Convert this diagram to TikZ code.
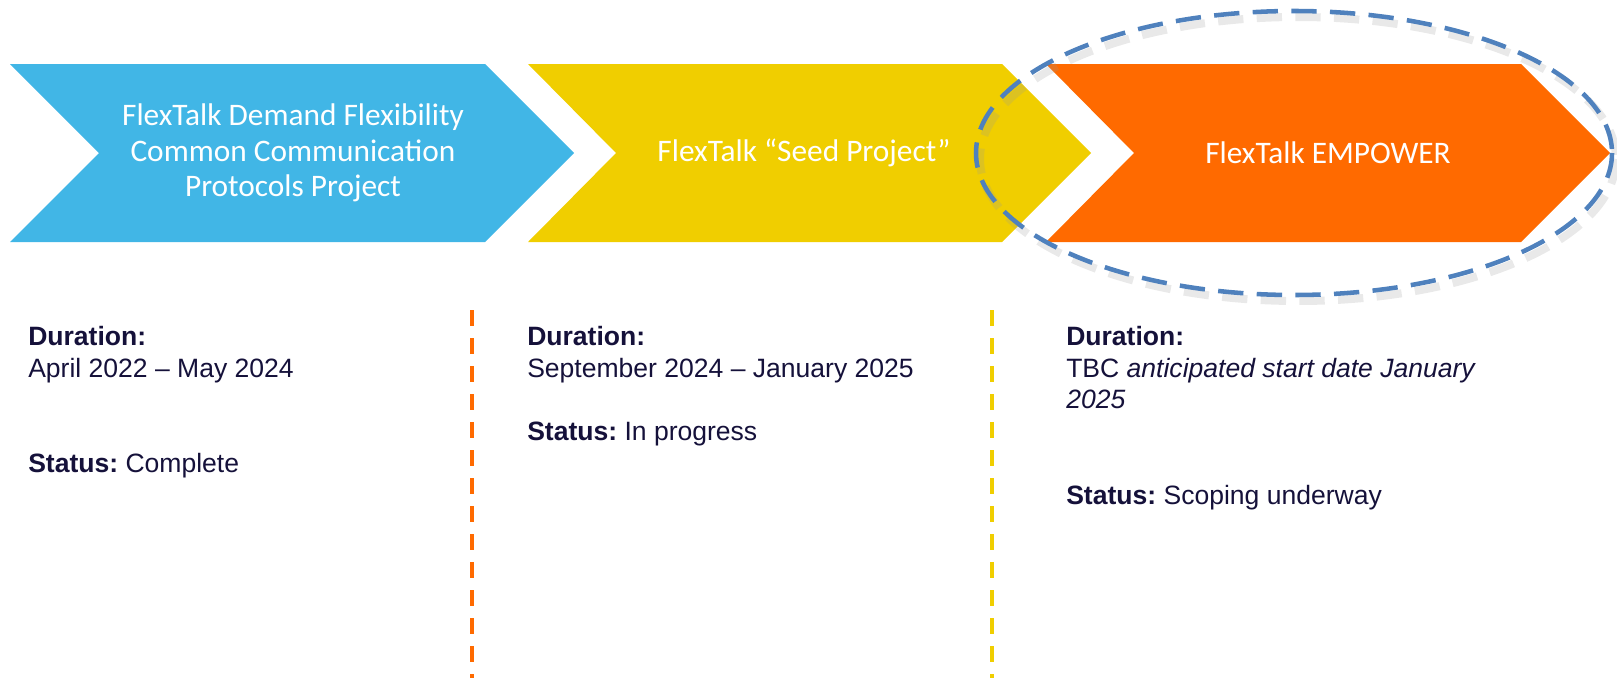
\documentclass[tikz,border=0pt]{standalone}
\usepackage{fontspec}
\setmainfont{Liberation Sans}
\newfontfamily\chevfont{Carlito}
\frenchspacing
\definecolor{flexblue}{HTML}{41B6E6}
\definecolor{flexyellow}{HTML}{F0CE00}
\definecolor{flexorange}{HTML}{FF6A00}
\definecolor{ringblue}{HTML}{4F81BD}
\definecolor{navytext}{HTML}{15113A}
\tikzset{
  chevtext/.style={text=white,align=center,font=\chevfont\fontsize{23.5}{26.8}\selectfont},
  infotext/.style={text=navytext,align=left,anchor=north west,inner sep=0pt,font=\fontsize{19.9}{23.8}\selectfont},
  divider/.style={line width=3pt,dash pattern=on 12pt off 9pt}
}
\begin{document}
\begin{tikzpicture}[x=0.75pt,y=-0.75pt]
\useasboundingbox (0,0) rectangle (1617,678);
\fill[flexblue](10,64)--(485,64)--(574,153)--(485,242)--(10,242)--(99,153)--cycle;
\fill[flexyellow](528,64)--(1002,64)--(1091,153)--(1002,242)--(528,242)--(616,153)--cycle;
\fill[flexorange](1046,64)--(1521,64)--(1610,153)--(1521,242)--(1046,242)--(1134,153)--cycle;
\node[chevtext] (protocols) at (293,153) {FlexTalk Demand Flexibility\\Common Communication\\Protocols Project};
\node[chevtext] (seed) at (804,153) {FlexTalk “Seed Project”};
\node[chevtext] (empower) at (1328,153) {FlexTalk EMPOWER};
% highlight round EMPOWER
\draw[black!40,opacity=.22,line width=6pt,dash pattern=on 19pt off 10pt](1298,159) ellipse [x radius=318,y radius=142];
\draw[ringblue,line width=3.4pt,dash pattern=on 19pt off 10pt](1294,153) ellipse [x radius=318,y radius=142];
\draw[divider,flexorange](472,310)--(472,678);
\draw[divider,flexyellow](992,310)--(992,678);
\node[infotext] (info1) at (28,326) {\textbf{Duration:}\\April 2022 – May 2024\\ \\ \\\textbf{Status:} Complete};
\node[infotext] (info2) at (527,326) {\textbf{Duration:}\\September 2024 – January 2025\\ \\\textbf{Status:} In progress};
\node[infotext] (info3) at (1066,326) {\textbf{Duration:}\\TBC \textit{anticipated start date January}\\\textit{2025}\\ \\ \\\textbf{Status:} Scoping underway};
\end{tikzpicture}
\end{document}
